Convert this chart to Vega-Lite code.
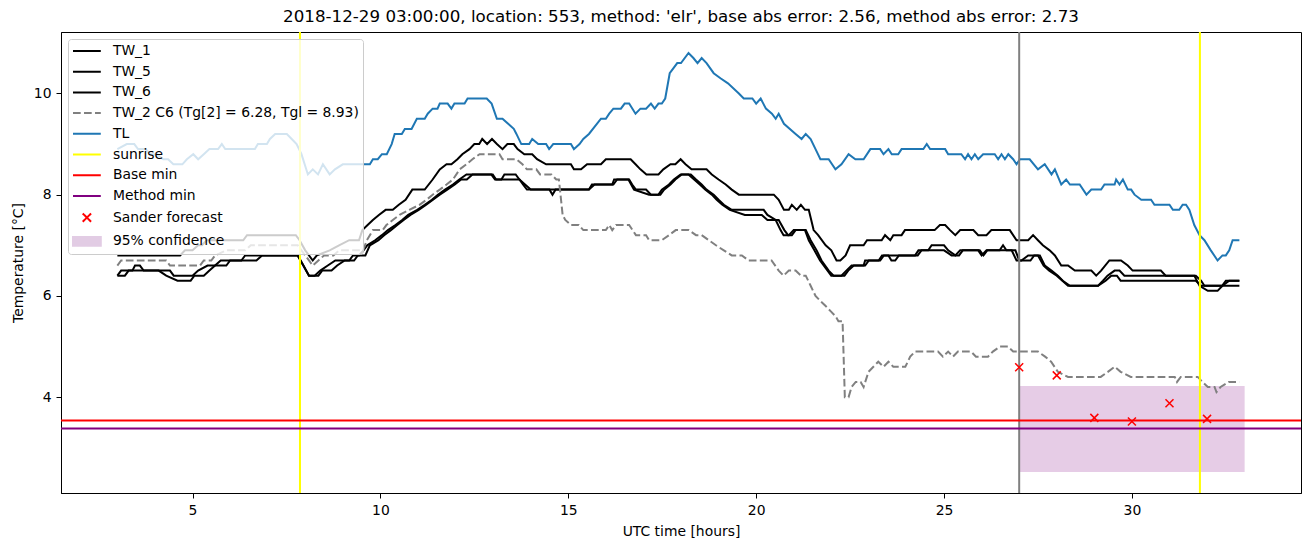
{
"$schema": "https://vega.github.io/schema/vega-lite/v6.json",
"autosize": {"type": "none"},
"padding": {"left": 61, "top": 32, "right": 9, "bottom": 54},
"width": 1240,
"height": 461,
"background": "white",
"title": {"text": "2018-12-29 03:00:00, location: 553, method: 'elr', base abs error: 2.56, method abs error: 2.73"},
"datasets": {
"black": [
{"s":"TW_1","t":3.0,"v":6.8},{"s":"TW_1","t":4.67,"v":6.8},{"s":"TW_1","t":4.8,"v":6.9},{"s":"TW_1","t":5.0,"v":6.9},{"s":"TW_1","t":5.15,"v":7.0},{"s":"TW_1","t":5.25,"v":7.0},{"s":"TW_1","t":5.38,"v":7.1},{"s":"TW_1","t":6.35,"v":7.1},{"s":"TW_1","t":6.45,"v":7.2},{"s":"TW_1","t":7.75,"v":7.2},{"s":"TW_1","t":7.85,"v":7.1},{"s":"TW_1","t":8.0,"v":6.9},{"s":"TW_1","t":8.2,"v":6.7},{"s":"TW_1","t":8.31,"v":6.8},{"s":"TW_1","t":8.65,"v":6.9},{"s":"TW_1","t":8.9,"v":7.0},{"s":"TW_1","t":9.17,"v":7.1},{"s":"TW_1","t":9.43,"v":7.1},{"s":"TW_1","t":9.52,"v":7.3},{"s":"TW_1","t":9.66,"v":7.4},{"s":"TW_1","t":9.8,"v":7.5},{"s":"TW_1","t":9.96,"v":7.6},{"s":"TW_1","t":10.14,"v":7.7},{"s":"TW_1","t":10.33,"v":7.7},{"s":"TW_1","t":10.49,"v":7.8},{"s":"TW_1","t":10.67,"v":7.9},{"s":"TW_1","t":10.85,"v":8.1},{"s":"TW_1","t":11.18,"v":8.1},{"s":"TW_1","t":11.39,"v":8.3},{"s":"TW_1","t":11.58,"v":8.5},{"s":"TW_1","t":11.76,"v":8.6},{"s":"TW_1","t":11.89,"v":8.6},{"s":"TW_1","t":12.05,"v":8.7},{"s":"TW_1","t":12.18,"v":8.8},{"s":"TW_1","t":12.37,"v":8.9},{"s":"TW_1","t":12.5,"v":9.0},{"s":"TW_1","t":12.63,"v":9.0},{"s":"TW_1","t":12.71,"v":9.1},{"s":"TW_1","t":12.84,"v":9.0},{"s":"TW_1","t":12.97,"v":9.1},{"s":"TW_1","t":13.1,"v":9.0},{"s":"TW_1","t":13.25,"v":8.9},{"s":"TW_1","t":13.38,"v":9.0},{"s":"TW_1","t":13.55,"v":9.0},{"s":"TW_1","t":13.65,"v":8.9},{"s":"TW_1","t":13.83,"v":8.8},{"s":"TW_1","t":14.04,"v":8.8},{"s":"TW_1","t":14.17,"v":8.7},{"s":"TW_1","t":14.41,"v":8.6},{"s":"TW_1","t":15.07,"v":8.6},{"s":"TW_1","t":15.15,"v":8.5},{"s":"TW_1","t":15.34,"v":8.5},{"s":"TW_1","t":15.5,"v":8.6},{"s":"TW_1","t":15.87,"v":8.6},{"s":"TW_1","t":16.0,"v":8.7},{"s":"TW_1","t":16.66,"v":8.7},{"s":"TW_1","t":16.79,"v":8.6},{"s":"TW_1","t":16.92,"v":8.5},{"s":"TW_1","t":17.08,"v":8.4},{"s":"TW_1","t":17.4,"v":8.4},{"s":"TW_1","t":17.53,"v":8.5},{"s":"TW_1","t":17.72,"v":8.6},{"s":"TW_1","t":17.85,"v":8.6},{"s":"TW_1","t":17.99,"v":8.7},{"s":"TW_1","t":18.12,"v":8.6},{"s":"TW_1","t":18.28,"v":8.5},{"s":"TW_1","t":18.68,"v":8.5},{"s":"TW_1","t":18.82,"v":8.4},{"s":"TW_1","t":19.0,"v":8.3},{"s":"TW_1","t":19.19,"v":8.2},{"s":"TW_1","t":19.35,"v":8.1},{"s":"TW_1","t":19.54,"v":8.0},{"s":"TW_1","t":20.47,"v":8.0},{"s":"TW_1","t":20.6,"v":7.9},{"s":"TW_1","t":20.74,"v":7.7},{"s":"TW_1","t":20.87,"v":7.7},{"s":"TW_1","t":20.95,"v":7.8},{"s":"TW_1","t":21.08,"v":7.7},{"s":"TW_1","t":21.19,"v":7.8},{"s":"TW_1","t":21.3,"v":7.7},{"s":"TW_1","t":21.4,"v":7.7},{"s":"TW_1","t":21.53,"v":7.3},{"s":"TW_1","t":21.65,"v":7.2},{"s":"TW_1","t":21.85,"v":7.0},{"s":"TW_1","t":22.0,"v":6.9},{"s":"TW_1","t":22.14,"v":6.7},{"s":"TW_1","t":22.24,"v":6.7},{"s":"TW_1","t":22.38,"v":6.8},{"s":"TW_1","t":22.5,"v":7.0},{"s":"TW_1","t":22.86,"v":7.0},{"s":"TW_1","t":22.95,"v":7.1},{"s":"TW_1","t":23.34,"v":7.1},{"s":"TW_1","t":23.43,"v":7.2},{"s":"TW_1","t":23.57,"v":7.1},{"s":"TW_1","t":23.65,"v":7.2},{"s":"TW_1","t":23.87,"v":7.2},{"s":"TW_1","t":23.96,"v":7.3},{"s":"TW_1","t":24.75,"v":7.3},{"s":"TW_1","t":24.89,"v":7.4},{"s":"TW_1","t":25.03,"v":7.4},{"s":"TW_1","t":25.16,"v":7.3},{"s":"TW_1","t":25.3,"v":7.2},{"s":"TW_1","t":25.43,"v":7.3},{"s":"TW_1","t":25.78,"v":7.3},{"s":"TW_1","t":25.91,"v":7.2},{"s":"TW_1","t":26.13,"v":7.2},{"s":"TW_1","t":26.26,"v":7.3},{"s":"TW_1","t":26.75,"v":7.3},{"s":"TW_1","t":26.93,"v":7.1},{"s":"TW_1","t":27.24,"v":7.1},{"s":"TW_1","t":27.37,"v":7.2},{"s":"TW_1","t":27.5,"v":7.1},{"s":"TW_1","t":27.63,"v":7.0},{"s":"TW_1","t":27.81,"v":6.9},{"s":"TW_1","t":27.95,"v":6.8},{"s":"TW_1","t":28.12,"v":6.6},{"s":"TW_1","t":28.3,"v":6.6},{"s":"TW_1","t":28.48,"v":6.5},{"s":"TW_1","t":28.92,"v":6.5},{"s":"TW_1","t":29.05,"v":6.4},{"s":"TW_1","t":29.18,"v":6.5},{"s":"TW_1","t":29.4,"v":6.7},{"s":"TW_1","t":29.71,"v":6.7},{"s":"TW_1","t":29.89,"v":6.6},{"s":"TW_1","t":30.02,"v":6.5},{"s":"TW_1","t":30.77,"v":6.5},{"s":"TW_1","t":30.9,"v":6.4},{"s":"TW_1","t":31.66,"v":6.4},{"s":"TW_1","t":31.8,"v":6.2},{"s":"TW_1","t":32.02,"v":6.1},{"s":"TW_1","t":32.28,"v":6.1},{"s":"TW_1","t":32.41,"v":6.2},{"s":"TW_1","t":32.59,"v":6.3},{"s":"TW_1","t":32.86,"v":6.3},
{"s":"TW_5","t":3.0,"v":6.4},{"s":"TW_5","t":3.1,"v":6.5},{"s":"TW_5","t":3.4,"v":6.5},{"s":"TW_5","t":3.47,"v":6.6},{"s":"TW_5","t":3.6,"v":6.6},{"s":"TW_5","t":3.7,"v":6.5},{"s":"TW_5","t":4.4,"v":6.5},{"s":"TW_5","t":4.5,"v":6.4},{"s":"TW_5","t":5.0,"v":6.4},{"s":"TW_5","t":5.15,"v":6.5},{"s":"TW_5","t":5.4,"v":6.6},{"s":"TW_5","t":5.6,"v":6.6},{"s":"TW_5","t":5.75,"v":6.7},{"s":"TW_5","t":6.7,"v":6.7},{"s":"TW_5","t":6.85,"v":6.8},{"s":"TW_5","t":7.8,"v":6.8},{"s":"TW_5","t":7.95,"v":6.6},{"s":"TW_5","t":8.1,"v":6.4},{"s":"TW_5","t":8.25,"v":6.4},{"s":"TW_5","t":8.4,"v":6.5},{"s":"TW_5","t":8.6,"v":6.6},{"s":"TW_5","t":8.8,"v":6.7},{"s":"TW_5","t":9.17,"v":6.7},{"s":"TW_5","t":9.27,"v":6.8},{"s":"TW_5","t":9.43,"v":6.8},{"s":"TW_5","t":9.55,"v":6.9},{"s":"TW_5","t":9.65,"v":7.0},{"s":"TW_5","t":9.86,"v":7.1},{"s":"TW_5","t":10.04,"v":7.2},{"s":"TW_5","t":10.2,"v":7.3},{"s":"TW_5","t":10.4,"v":7.4},{"s":"TW_5","t":10.58,"v":7.5},{"s":"TW_5","t":10.74,"v":7.6},{"s":"TW_5","t":10.98,"v":7.7},{"s":"TW_5","t":11.18,"v":7.8},{"s":"TW_5","t":11.37,"v":7.9},{"s":"TW_5","t":11.53,"v":8.0},{"s":"TW_5","t":11.72,"v":8.1},{"s":"TW_5","t":11.93,"v":8.2},{"s":"TW_5","t":12.1,"v":8.3},{"s":"TW_5","t":12.29,"v":8.4},{"s":"TW_5","t":12.99,"v":8.4},{"s":"TW_5","t":13.08,"v":8.3},{"s":"TW_5","t":13.22,"v":8.3},{"s":"TW_5","t":13.3,"v":8.4},{"s":"TW_5","t":13.6,"v":8.4},{"s":"TW_5","t":13.7,"v":8.3},{"s":"TW_5","t":13.85,"v":8.2},{"s":"TW_5","t":14.0,"v":8.1},{"s":"TW_5","t":15.55,"v":8.1},{"s":"TW_5","t":15.63,"v":8.2},{"s":"TW_5","t":16.17,"v":8.2},{"s":"TW_5","t":16.22,"v":8.3},{"s":"TW_5","t":16.62,"v":8.3},{"s":"TW_5","t":16.7,"v":8.2},{"s":"TW_5","t":16.8,"v":8.1},{"s":"TW_5","t":17.07,"v":8.1},{"s":"TW_5","t":17.2,"v":8.0},{"s":"TW_5","t":17.4,"v":8.0},{"s":"TW_5","t":17.49,"v":8.1},{"s":"TW_5","t":17.68,"v":8.2},{"s":"TW_5","t":17.81,"v":8.3},{"s":"TW_5","t":17.99,"v":8.4},{"s":"TW_5","t":18.26,"v":8.4},{"s":"TW_5","t":18.4,"v":8.3},{"s":"TW_5","t":18.55,"v":8.2},{"s":"TW_5","t":18.68,"v":8.1},{"s":"TW_5","t":18.87,"v":8.0},{"s":"TW_5","t":19.0,"v":7.9},{"s":"TW_5","t":19.14,"v":7.8},{"s":"TW_5","t":19.35,"v":7.7},{"s":"TW_5","t":20.2,"v":7.7},{"s":"TW_5","t":20.3,"v":7.6},{"s":"TW_5","t":20.52,"v":7.5},{"s":"TW_5","t":20.65,"v":7.3},{"s":"TW_5","t":20.73,"v":7.2},{"s":"TW_5","t":20.87,"v":7.2},{"s":"TW_5","t":21.0,"v":7.3},{"s":"TW_5","t":21.32,"v":7.3},{"s":"TW_5","t":21.45,"v":7.1},{"s":"TW_5","t":21.61,"v":6.9},{"s":"TW_5","t":21.74,"v":6.7},{"s":"TW_5","t":21.93,"v":6.5},{"s":"TW_5","t":22.06,"v":6.4},{"s":"TW_5","t":22.27,"v":6.4},{"s":"TW_5","t":22.4,"v":6.5},{"s":"TW_5","t":22.54,"v":6.6},{"s":"TW_5","t":22.86,"v":6.6},{"s":"TW_5","t":22.9,"v":6.7},{"s":"TW_5","t":23.26,"v":6.7},{"s":"TW_5","t":23.35,"v":6.8},{"s":"TW_5","t":24.23,"v":6.8},{"s":"TW_5","t":24.32,"v":6.9},{"s":"TW_5","t":24.58,"v":6.9},{"s":"TW_5","t":24.67,"v":7.0},{"s":"TW_5","t":25.0,"v":7.0},{"s":"TW_5","t":25.11,"v":6.9},{"s":"TW_5","t":25.3,"v":6.8},{"s":"TW_5","t":25.43,"v":6.9},{"s":"TW_5","t":25.91,"v":6.9},{"s":"TW_5","t":26.0,"v":6.8},{"s":"TW_5","t":26.13,"v":6.9},{"s":"TW_5","t":26.48,"v":6.9},{"s":"TW_5","t":26.57,"v":7.0},{"s":"TW_5","t":26.66,"v":6.9},{"s":"TW_5","t":26.8,"v":6.9},{"s":"TW_5","t":26.93,"v":6.7},{"s":"TW_5","t":27.06,"v":6.7},{"s":"TW_5","t":27.24,"v":6.8},{"s":"TW_5","t":27.55,"v":6.8},{"s":"TW_5","t":27.68,"v":6.6},{"s":"TW_5","t":27.86,"v":6.5},{"s":"TW_5","t":28.03,"v":6.4},{"s":"TW_5","t":28.16,"v":6.3},{"s":"TW_5","t":28.35,"v":6.2},{"s":"TW_5","t":29.1,"v":6.2},{"s":"TW_5","t":29.23,"v":6.3},{"s":"TW_5","t":29.35,"v":6.4},{"s":"TW_5","t":29.54,"v":6.5},{"s":"TW_5","t":29.67,"v":6.5},{"s":"TW_5","t":29.8,"v":6.4},{"s":"TW_5","t":31.7,"v":6.4},{"s":"TW_5","t":31.84,"v":6.3},{"s":"TW_5","t":31.93,"v":6.2},{"s":"TW_5","t":32.4,"v":6.2},{"s":"TW_5","t":32.5,"v":6.3},{"s":"TW_5","t":32.86,"v":6.3},
{"s":"TW_6","t":3.0,"v":6.4},{"s":"TW_6","t":3.2,"v":6.4},{"s":"TW_6","t":3.3,"v":6.5},{"s":"TW_6","t":4.1,"v":6.5},{"s":"TW_6","t":4.3,"v":6.4},{"s":"TW_6","t":4.6,"v":6.3},{"s":"TW_6","t":4.95,"v":6.3},{"s":"TW_6","t":5.05,"v":6.4},{"s":"TW_6","t":5.3,"v":6.4},{"s":"TW_6","t":5.45,"v":6.5},{"s":"TW_6","t":5.6,"v":6.6},{"s":"TW_6","t":5.9,"v":6.6},{"s":"TW_6","t":6.0,"v":6.7},{"s":"TW_6","t":6.3,"v":6.7},{"s":"TW_6","t":6.4,"v":6.8},{"s":"TW_6","t":7.8,"v":6.8},{"s":"TW_6","t":7.95,"v":6.6},{"s":"TW_6","t":8.1,"v":6.4},{"s":"TW_6","t":8.35,"v":6.4},{"s":"TW_6","t":8.45,"v":6.5},{"s":"TW_6","t":8.7,"v":6.5},{"s":"TW_6","t":8.85,"v":6.6},{"s":"TW_6","t":9.05,"v":6.7},{"s":"TW_6","t":9.3,"v":6.7},{"s":"TW_6","t":9.4,"v":6.8},{"s":"TW_6","t":9.6,"v":6.8},{"s":"TW_6","t":9.72,"v":7.0},{"s":"TW_6","t":9.95,"v":7.1},{"s":"TW_6","t":10.1,"v":7.2},{"s":"TW_6","t":10.28,"v":7.3},{"s":"TW_6","t":10.45,"v":7.4},{"s":"TW_6","t":10.62,"v":7.5},{"s":"TW_6","t":10.8,"v":7.6},{"s":"TW_6","t":11.02,"v":7.7},{"s":"TW_6","t":11.22,"v":7.8},{"s":"TW_6","t":11.4,"v":7.9},{"s":"TW_6","t":11.58,"v":8.0},{"s":"TW_6","t":11.78,"v":8.1},{"s":"TW_6","t":11.98,"v":8.2},{"s":"TW_6","t":12.15,"v":8.3},{"s":"TW_6","t":12.3,"v":8.3},{"s":"TW_6","t":12.45,"v":8.4},{"s":"TW_6","t":12.95,"v":8.4},{"s":"TW_6","t":13.05,"v":8.3},{"s":"TW_6","t":13.7,"v":8.3},{"s":"TW_6","t":13.8,"v":8.2},{"s":"TW_6","t":13.9,"v":8.1},{"s":"TW_6","t":14.5,"v":8.1},{"s":"TW_6","t":14.58,"v":8.0},{"s":"TW_6","t":14.66,"v":8.1},{"s":"TW_6","t":15.55,"v":8.1},{"s":"TW_6","t":15.7,"v":8.2},{"s":"TW_6","t":16.2,"v":8.2},{"s":"TW_6","t":16.3,"v":8.3},{"s":"TW_6","t":16.6,"v":8.3},{"s":"TW_6","t":16.75,"v":8.1},{"s":"TW_6","t":17.15,"v":8.0},{"s":"TW_6","t":17.45,"v":8.0},{"s":"TW_6","t":17.55,"v":8.1},{"s":"TW_6","t":17.72,"v":8.2},{"s":"TW_6","t":17.85,"v":8.3},{"s":"TW_6","t":18.02,"v":8.4},{"s":"TW_6","t":18.2,"v":8.4},{"s":"TW_6","t":18.35,"v":8.3},{"s":"TW_6","t":18.5,"v":8.2},{"s":"TW_6","t":18.65,"v":8.1},{"s":"TW_6","t":18.82,"v":8.0},{"s":"TW_6","t":18.95,"v":7.9},{"s":"TW_6","t":19.1,"v":7.8},{"s":"TW_6","t":19.3,"v":7.7},{"s":"TW_6","t":19.7,"v":7.6},{"s":"TW_6","t":20.15,"v":7.6},{"s":"TW_6","t":20.3,"v":7.5},{"s":"TW_6","t":20.6,"v":7.5},{"s":"TW_6","t":20.75,"v":7.3},{"s":"TW_6","t":20.85,"v":7.2},{"s":"TW_6","t":20.95,"v":7.2},{"s":"TW_6","t":21.05,"v":7.3},{"s":"TW_6","t":21.3,"v":7.3},{"s":"TW_6","t":21.4,"v":7.1},{"s":"TW_6","t":21.55,"v":6.9},{"s":"TW_6","t":21.7,"v":6.7},{"s":"TW_6","t":21.9,"v":6.5},{"s":"TW_6","t":22.0,"v":6.4},{"s":"TW_6","t":22.35,"v":6.4},{"s":"TW_6","t":22.45,"v":6.5},{"s":"TW_6","t":22.6,"v":6.6},{"s":"TW_6","t":22.9,"v":6.6},{"s":"TW_6","t":23.0,"v":6.7},{"s":"TW_6","t":23.3,"v":6.7},{"s":"TW_6","t":23.4,"v":6.8},{"s":"TW_6","t":23.52,"v":6.8},{"s":"TW_6","t":23.6,"v":6.7},{"s":"TW_6","t":23.7,"v":6.7},{"s":"TW_6","t":23.8,"v":6.8},{"s":"TW_6","t":24.3,"v":6.8},{"s":"TW_6","t":24.4,"v":6.9},{"s":"TW_6","t":25.0,"v":6.9},{"s":"TW_6","t":25.2,"v":6.8},{"s":"TW_6","t":25.4,"v":6.8},{"s":"TW_6","t":25.5,"v":6.9},{"s":"TW_6","t":25.95,"v":6.9},{"s":"TW_6","t":26.05,"v":6.8},{"s":"TW_6","t":26.15,"v":6.9},{"s":"TW_6","t":26.9,"v":6.9},{"s":"TW_6","t":27.0,"v":6.7},{"s":"TW_6","t":27.3,"v":6.7},{"s":"TW_6","t":27.4,"v":6.8},{"s":"TW_6","t":27.5,"v":6.8},{"s":"TW_6","t":27.65,"v":6.6},{"s":"TW_6","t":27.8,"v":6.5},{"s":"TW_6","t":28.0,"v":6.4},{"s":"TW_6","t":28.15,"v":6.3},{"s":"TW_6","t":28.3,"v":6.2},{"s":"TW_6","t":29.1,"v":6.2},{"s":"TW_6","t":29.3,"v":6.3},{"s":"TW_6","t":29.45,"v":6.4},{"s":"TW_6","t":29.6,"v":6.4},{"s":"TW_6","t":29.7,"v":6.3},{"s":"TW_6","t":31.7,"v":6.3},{"s":"TW_6","t":31.84,"v":6.2},{"s":"TW_6","t":32.86,"v":6.2}
],
"dashed": [
{"s":"TW_2 C6 (Tg[2] = 6.28, Tgl = 8.93)","t":3.0,"v":6.6},{"s":"TW_2 C6 (Tg[2] = 6.28, Tgl = 8.93)","t":3.1,"v":6.7},{"s":"TW_2 C6 (Tg[2] = 6.28, Tgl = 8.93)","t":4.3,"v":6.7},{"s":"TW_2 C6 (Tg[2] = 6.28, Tgl = 8.93)","t":4.4,"v":6.6},{"s":"TW_2 C6 (Tg[2] = 6.28, Tgl = 8.93)","t":5.2,"v":6.6},{"s":"TW_2 C6 (Tg[2] = 6.28, Tgl = 8.93)","t":5.3,"v":6.7},{"s":"TW_2 C6 (Tg[2] = 6.28, Tgl = 8.93)","t":5.5,"v":6.7},{"s":"TW_2 C6 (Tg[2] = 6.28, Tgl = 8.93)","t":5.6,"v":6.8},{"s":"TW_2 C6 (Tg[2] = 6.28, Tgl = 8.93)","t":5.9,"v":6.9},{"s":"TW_2 C6 (Tg[2] = 6.28, Tgl = 8.93)","t":6.4,"v":6.9},{"s":"TW_2 C6 (Tg[2] = 6.28, Tgl = 8.93)","t":6.55,"v":7.0},{"s":"TW_2 C6 (Tg[2] = 6.28, Tgl = 8.93)","t":7.8,"v":7.0},{"s":"TW_2 C6 (Tg[2] = 6.28, Tgl = 8.93)","t":8.0,"v":6.8},{"s":"TW_2 C6 (Tg[2] = 6.28, Tgl = 8.93)","t":8.2,"v":6.6},{"s":"TW_2 C6 (Tg[2] = 6.28, Tgl = 8.93)","t":8.35,"v":6.7},{"s":"TW_2 C6 (Tg[2] = 6.28, Tgl = 8.93)","t":8.5,"v":6.8},{"s":"TW_2 C6 (Tg[2] = 6.28, Tgl = 8.93)","t":8.75,"v":6.8},{"s":"TW_2 C6 (Tg[2] = 6.28, Tgl = 8.93)","t":8.9,"v":6.9},{"s":"TW_2 C6 (Tg[2] = 6.28, Tgl = 8.93)","t":9.54,"v":6.9},{"s":"TW_2 C6 (Tg[2] = 6.28, Tgl = 8.93)","t":9.64,"v":7.1},{"s":"TW_2 C6 (Tg[2] = 6.28, Tgl = 8.93)","t":9.8,"v":7.3},{"s":"TW_2 C6 (Tg[2] = 6.28, Tgl = 8.93)","t":10.06,"v":7.3},{"s":"TW_2 C6 (Tg[2] = 6.28, Tgl = 8.93)","t":10.16,"v":7.4},{"s":"TW_2 C6 (Tg[2] = 6.28, Tgl = 8.93)","t":10.33,"v":7.5},{"s":"TW_2 C6 (Tg[2] = 6.28, Tgl = 8.93)","t":10.51,"v":7.6},{"s":"TW_2 C6 (Tg[2] = 6.28, Tgl = 8.93)","t":10.77,"v":7.7},{"s":"TW_2 C6 (Tg[2] = 6.28, Tgl = 8.93)","t":11.04,"v":7.8},{"s":"TW_2 C6 (Tg[2] = 6.28, Tgl = 8.93)","t":11.23,"v":7.9},{"s":"TW_2 C6 (Tg[2] = 6.28, Tgl = 8.93)","t":11.39,"v":8.0},{"s":"TW_2 C6 (Tg[2] = 6.28, Tgl = 8.93)","t":11.58,"v":8.1},{"s":"TW_2 C6 (Tg[2] = 6.28, Tgl = 8.93)","t":11.76,"v":8.2},{"s":"TW_2 C6 (Tg[2] = 6.28, Tgl = 8.93)","t":11.93,"v":8.3},{"s":"TW_2 C6 (Tg[2] = 6.28, Tgl = 8.93)","t":12.11,"v":8.5},{"s":"TW_2 C6 (Tg[2] = 6.28, Tgl = 8.93)","t":12.29,"v":8.6},{"s":"TW_2 C6 (Tg[2] = 6.28, Tgl = 8.93)","t":12.45,"v":8.7},{"s":"TW_2 C6 (Tg[2] = 6.28, Tgl = 8.93)","t":12.64,"v":8.8},{"s":"TW_2 C6 (Tg[2] = 6.28, Tgl = 8.93)","t":13.17,"v":8.8},{"s":"TW_2 C6 (Tg[2] = 6.28, Tgl = 8.93)","t":13.25,"v":8.7},{"s":"TW_2 C6 (Tg[2] = 6.28, Tgl = 8.93)","t":13.62,"v":8.7},{"s":"TW_2 C6 (Tg[2] = 6.28, Tgl = 8.93)","t":13.78,"v":8.6},{"s":"TW_2 C6 (Tg[2] = 6.28, Tgl = 8.93)","t":13.9,"v":8.5},{"s":"TW_2 C6 (Tg[2] = 6.28, Tgl = 8.93)","t":14.15,"v":8.5},{"s":"TW_2 C6 (Tg[2] = 6.28, Tgl = 8.93)","t":14.25,"v":8.4},{"s":"TW_2 C6 (Tg[2] = 6.28, Tgl = 8.93)","t":14.55,"v":8.4},{"s":"TW_2 C6 (Tg[2] = 6.28, Tgl = 8.93)","t":14.68,"v":8.3},{"s":"TW_2 C6 (Tg[2] = 6.28, Tgl = 8.93)","t":14.75,"v":8.3},{"s":"TW_2 C6 (Tg[2] = 6.28, Tgl = 8.93)","t":14.85,"v":7.6},{"s":"TW_2 C6 (Tg[2] = 6.28, Tgl = 8.93)","t":14.92,"v":7.5},{"s":"TW_2 C6 (Tg[2] = 6.28, Tgl = 8.93)","t":15.07,"v":7.4},{"s":"TW_2 C6 (Tg[2] = 6.28, Tgl = 8.93)","t":15.28,"v":7.4},{"s":"TW_2 C6 (Tg[2] = 6.28, Tgl = 8.93)","t":15.4,"v":7.3},{"s":"TW_2 C6 (Tg[2] = 6.28, Tgl = 8.93)","t":16.0,"v":7.3},{"s":"TW_2 C6 (Tg[2] = 6.28, Tgl = 8.93)","t":16.09,"v":7.4},{"s":"TW_2 C6 (Tg[2] = 6.28, Tgl = 8.93)","t":16.17,"v":7.3},{"s":"TW_2 C6 (Tg[2] = 6.28, Tgl = 8.93)","t":16.27,"v":7.4},{"s":"TW_2 C6 (Tg[2] = 6.28, Tgl = 8.93)","t":16.62,"v":7.4},{"s":"TW_2 C6 (Tg[2] = 6.28, Tgl = 8.93)","t":16.8,"v":7.2},{"s":"TW_2 C6 (Tg[2] = 6.28, Tgl = 8.93)","t":17.07,"v":7.2},{"s":"TW_2 C6 (Tg[2] = 6.28, Tgl = 8.93)","t":17.15,"v":7.1},{"s":"TW_2 C6 (Tg[2] = 6.28, Tgl = 8.93)","t":17.49,"v":7.1},{"s":"TW_2 C6 (Tg[2] = 6.28, Tgl = 8.93)","t":17.68,"v":7.2},{"s":"TW_2 C6 (Tg[2] = 6.28, Tgl = 8.93)","t":17.86,"v":7.3},{"s":"TW_2 C6 (Tg[2] = 6.28, Tgl = 8.93)","t":18.21,"v":7.3},{"s":"TW_2 C6 (Tg[2] = 6.28, Tgl = 8.93)","t":18.4,"v":7.2},{"s":"TW_2 C6 (Tg[2] = 6.28, Tgl = 8.93)","t":18.55,"v":7.2},{"s":"TW_2 C6 (Tg[2] = 6.28, Tgl = 8.93)","t":18.74,"v":7.1},{"s":"TW_2 C6 (Tg[2] = 6.28, Tgl = 8.93)","t":18.93,"v":7.0},{"s":"TW_2 C6 (Tg[2] = 6.28, Tgl = 8.93)","t":19.14,"v":6.9},{"s":"TW_2 C6 (Tg[2] = 6.28, Tgl = 8.93)","t":19.35,"v":6.8},{"s":"TW_2 C6 (Tg[2] = 6.28, Tgl = 8.93)","t":19.62,"v":6.8},{"s":"TW_2 C6 (Tg[2] = 6.28, Tgl = 8.93)","t":19.8,"v":6.7},{"s":"TW_2 C6 (Tg[2] = 6.28, Tgl = 8.93)","t":20.41,"v":6.7},{"s":"TW_2 C6 (Tg[2] = 6.28, Tgl = 8.93)","t":20.6,"v":6.5},{"s":"TW_2 C6 (Tg[2] = 6.28, Tgl = 8.93)","t":20.73,"v":6.4},{"s":"TW_2 C6 (Tg[2] = 6.28, Tgl = 8.93)","t":20.87,"v":6.5},{"s":"TW_2 C6 (Tg[2] = 6.28, Tgl = 8.93)","t":21.05,"v":6.5},{"s":"TW_2 C6 (Tg[2] = 6.28, Tgl = 8.93)","t":21.19,"v":6.4},{"s":"TW_2 C6 (Tg[2] = 6.28, Tgl = 8.93)","t":21.32,"v":6.4},{"s":"TW_2 C6 (Tg[2] = 6.28, Tgl = 8.93)","t":21.45,"v":6.2},{"s":"TW_2 C6 (Tg[2] = 6.28, Tgl = 8.93)","t":21.58,"v":6.0},{"s":"TW_2 C6 (Tg[2] = 6.28, Tgl = 8.93)","t":21.71,"v":5.9},{"s":"TW_2 C6 (Tg[2] = 6.28, Tgl = 8.93)","t":21.85,"v":5.8},{"s":"TW_2 C6 (Tg[2] = 6.28, Tgl = 8.93)","t":21.98,"v":5.7},{"s":"TW_2 C6 (Tg[2] = 6.28, Tgl = 8.93)","t":22.11,"v":5.6},{"s":"TW_2 C6 (Tg[2] = 6.28, Tgl = 8.93)","t":22.19,"v":5.5},{"s":"TW_2 C6 (Tg[2] = 6.28, Tgl = 8.93)","t":22.3,"v":5.5},{"s":"TW_2 C6 (Tg[2] = 6.28, Tgl = 8.93)","t":22.36,"v":4.0},{"s":"TW_2 C6 (Tg[2] = 6.28, Tgl = 8.93)","t":22.46,"v":4.0},{"s":"TW_2 C6 (Tg[2] = 6.28, Tgl = 8.93)","t":22.54,"v":4.2},{"s":"TW_2 C6 (Tg[2] = 6.28, Tgl = 8.93)","t":22.65,"v":4.3},{"s":"TW_2 C6 (Tg[2] = 6.28, Tgl = 8.93)","t":22.78,"v":4.3},{"s":"TW_2 C6 (Tg[2] = 6.28, Tgl = 8.93)","t":22.86,"v":4.2},{"s":"TW_2 C6 (Tg[2] = 6.28, Tgl = 8.93)","t":22.99,"v":4.5},{"s":"TW_2 C6 (Tg[2] = 6.28, Tgl = 8.93)","t":23.12,"v":4.6},{"s":"TW_2 C6 (Tg[2] = 6.28, Tgl = 8.93)","t":23.25,"v":4.7},{"s":"TW_2 C6 (Tg[2] = 6.28, Tgl = 8.93)","t":23.39,"v":4.6},{"s":"TW_2 C6 (Tg[2] = 6.28, Tgl = 8.93)","t":23.52,"v":4.7},{"s":"TW_2 C6 (Tg[2] = 6.28, Tgl = 8.93)","t":23.65,"v":4.6},{"s":"TW_2 C6 (Tg[2] = 6.28, Tgl = 8.93)","t":23.97,"v":4.6},{"s":"TW_2 C6 (Tg[2] = 6.28, Tgl = 8.93)","t":24.1,"v":4.8},{"s":"TW_2 C6 (Tg[2] = 6.28, Tgl = 8.93)","t":24.23,"v":4.9},{"s":"TW_2 C6 (Tg[2] = 6.28, Tgl = 8.93)","t":24.84,"v":4.9},{"s":"TW_2 C6 (Tg[2] = 6.28, Tgl = 8.93)","t":24.97,"v":4.8},{"s":"TW_2 C6 (Tg[2] = 6.28, Tgl = 8.93)","t":25.11,"v":4.9},{"s":"TW_2 C6 (Tg[2] = 6.28, Tgl = 8.93)","t":25.24,"v":4.8},{"s":"TW_2 C6 (Tg[2] = 6.28, Tgl = 8.93)","t":25.37,"v":4.9},{"s":"TW_2 C6 (Tg[2] = 6.28, Tgl = 8.93)","t":25.72,"v":4.9},{"s":"TW_2 C6 (Tg[2] = 6.28, Tgl = 8.93)","t":25.85,"v":4.8},{"s":"TW_2 C6 (Tg[2] = 6.28, Tgl = 8.93)","t":26.17,"v":4.8},{"s":"TW_2 C6 (Tg[2] = 6.28, Tgl = 8.93)","t":26.3,"v":4.9},{"s":"TW_2 C6 (Tg[2] = 6.28, Tgl = 8.93)","t":26.49,"v":5.0},{"s":"TW_2 C6 (Tg[2] = 6.28, Tgl = 8.93)","t":26.7,"v":5.0},{"s":"TW_2 C6 (Tg[2] = 6.28, Tgl = 8.93)","t":26.84,"v":4.9},{"s":"TW_2 C6 (Tg[2] = 6.28, Tgl = 8.93)","t":27.5,"v":4.9},{"s":"TW_2 C6 (Tg[2] = 6.28, Tgl = 8.93)","t":27.69,"v":4.8},{"s":"TW_2 C6 (Tg[2] = 6.28, Tgl = 8.93)","t":27.85,"v":4.7},{"s":"TW_2 C6 (Tg[2] = 6.28, Tgl = 8.93)","t":28.03,"v":4.5},{"s":"TW_2 C6 (Tg[2] = 6.28, Tgl = 8.93)","t":28.3,"v":4.4},{"s":"TW_2 C6 (Tg[2] = 6.28, Tgl = 8.93)","t":29.17,"v":4.4},{"s":"TW_2 C6 (Tg[2] = 6.28, Tgl = 8.93)","t":29.36,"v":4.5},{"s":"TW_2 C6 (Tg[2] = 6.28, Tgl = 8.93)","t":29.54,"v":4.6},{"s":"TW_2 C6 (Tg[2] = 6.28, Tgl = 8.93)","t":29.7,"v":4.5},{"s":"TW_2 C6 (Tg[2] = 6.28, Tgl = 8.93)","t":29.97,"v":4.4},{"s":"TW_2 C6 (Tg[2] = 6.28, Tgl = 8.93)","t":31.14,"v":4.4},{"s":"TW_2 C6 (Tg[2] = 6.28, Tgl = 8.93)","t":31.2,"v":4.3},{"s":"TW_2 C6 (Tg[2] = 6.28, Tgl = 8.93)","t":31.3,"v":4.4},{"s":"TW_2 C6 (Tg[2] = 6.28, Tgl = 8.93)","t":31.75,"v":4.4},{"s":"TW_2 C6 (Tg[2] = 6.28, Tgl = 8.93)","t":31.88,"v":4.3},{"s":"TW_2 C6 (Tg[2] = 6.28, Tgl = 8.93)","t":32.02,"v":4.2},{"s":"TW_2 C6 (Tg[2] = 6.28, Tgl = 8.93)","t":32.2,"v":4.2},{"s":"TW_2 C6 (Tg[2] = 6.28, Tgl = 8.93)","t":32.25,"v":4.1},{"s":"TW_2 C6 (Tg[2] = 6.28, Tgl = 8.93)","t":32.36,"v":4.2},{"s":"TW_2 C6 (Tg[2] = 6.28, Tgl = 8.93)","t":32.58,"v":4.3},{"s":"TW_2 C6 (Tg[2] = 6.28, Tgl = 8.93)","t":32.86,"v":4.3}
],
"tl": [
{"s":"TL","t":3.0,"v":8.9},{"s":"TL","t":3.25,"v":9.0},{"s":"TL","t":3.45,"v":9.0},{"s":"TL","t":3.55,"v":8.9},{"s":"TL","t":3.75,"v":8.9},{"s":"TL","t":3.88,"v":8.8},{"s":"TL","t":4.05,"v":8.8},{"s":"TL","t":4.22,"v":8.7},{"s":"TL","t":4.35,"v":8.7},{"s":"TL","t":4.49,"v":8.6},{"s":"TL","t":4.73,"v":8.6},{"s":"TL","t":4.85,"v":8.7},{"s":"TL","t":5.02,"v":8.8},{"s":"TL","t":5.15,"v":8.7},{"s":"TL","t":5.3,"v":8.8},{"s":"TL","t":5.45,"v":8.9},{"s":"TL","t":5.68,"v":8.9},{"s":"TL","t":5.78,"v":9.0},{"s":"TL","t":5.87,"v":8.9},{"s":"TL","t":6.66,"v":8.9},{"s":"TL","t":6.74,"v":9.0},{"s":"TL","t":6.98,"v":9.0},{"s":"TL","t":7.06,"v":9.1},{"s":"TL","t":7.2,"v":9.2},{"s":"TL","t":7.51,"v":9.2},{"s":"TL","t":7.64,"v":9.1},{"s":"TL","t":7.77,"v":9.0},{"s":"TL","t":7.9,"v":8.8},{"s":"TL","t":8.07,"v":8.4},{"s":"TL","t":8.2,"v":8.5},{"s":"TL","t":8.34,"v":8.4},{"s":"TL","t":8.47,"v":8.6},{"s":"TL","t":8.65,"v":8.4},{"s":"TL","t":8.79,"v":8.5},{"s":"TL","t":9.0,"v":8.6},{"s":"TL","t":9.72,"v":8.6},{"s":"TL","t":9.8,"v":8.7},{"s":"TL","t":9.93,"v":8.7},{"s":"TL","t":10.04,"v":8.8},{"s":"TL","t":10.17,"v":8.8},{"s":"TL","t":10.3,"v":9.0},{"s":"TL","t":10.38,"v":9.2},{"s":"TL","t":10.57,"v":9.2},{"s":"TL","t":10.65,"v":9.3},{"s":"TL","t":10.83,"v":9.3},{"s":"TL","t":10.97,"v":9.5},{"s":"TL","t":11.18,"v":9.5},{"s":"TL","t":11.26,"v":9.6},{"s":"TL","t":11.39,"v":9.7},{"s":"TL","t":11.52,"v":9.7},{"s":"TL","t":11.58,"v":9.8},{"s":"TL","t":11.79,"v":9.8},{"s":"TL","t":11.89,"v":9.7},{"s":"TL","t":11.97,"v":9.8},{"s":"TL","t":12.24,"v":9.8},{"s":"TL","t":12.32,"v":9.9},{"s":"TL","t":12.83,"v":9.9},{"s":"TL","t":12.96,"v":9.8},{"s":"TL","t":13.1,"v":9.5},{"s":"TL","t":13.25,"v":9.5},{"s":"TL","t":13.4,"v":9.4},{"s":"TL","t":13.55,"v":9.3},{"s":"TL","t":13.62,"v":9.2},{"s":"TL","t":13.75,"v":9.0},{"s":"TL","t":13.96,"v":9.0},{"s":"TL","t":14.04,"v":9.1},{"s":"TL","t":14.2,"v":9.0},{"s":"TL","t":14.41,"v":9.0},{"s":"TL","t":14.49,"v":8.9},{"s":"TL","t":14.6,"v":9.0},{"s":"TL","t":15.07,"v":9.0},{"s":"TL","t":15.15,"v":8.9},{"s":"TL","t":15.3,"v":9.0},{"s":"TL","t":15.4,"v":9.1},{"s":"TL","t":15.55,"v":9.2},{"s":"TL","t":15.87,"v":9.5},{"s":"TL","t":16.0,"v":9.5},{"s":"TL","t":16.09,"v":9.6},{"s":"TL","t":16.2,"v":9.7},{"s":"TL","t":16.4,"v":9.7},{"s":"TL","t":16.5,"v":9.8},{"s":"TL","t":16.62,"v":9.8},{"s":"TL","t":16.79,"v":9.6},{"s":"TL","t":16.92,"v":9.7},{"s":"TL","t":17.07,"v":9.7},{"s":"TL","t":17.2,"v":9.8},{"s":"TL","t":17.3,"v":9.7},{"s":"TL","t":17.4,"v":9.8},{"s":"TL","t":17.49,"v":9.8},{"s":"TL","t":17.58,"v":9.9},{"s":"TL","t":17.7,"v":10.4},{"s":"TL","t":17.9,"v":10.6},{"s":"TL","t":18.0,"v":10.6},{"s":"TL","t":18.2,"v":10.8},{"s":"TL","t":18.33,"v":10.7},{"s":"TL","t":18.44,"v":10.6},{"s":"TL","t":18.55,"v":10.7},{"s":"TL","t":18.68,"v":10.6},{"s":"TL","t":18.87,"v":10.4},{"s":"TL","t":19.05,"v":10.3},{"s":"TL","t":19.25,"v":10.2},{"s":"TL","t":19.54,"v":10.0},{"s":"TL","t":19.67,"v":9.9},{"s":"TL","t":19.9,"v":9.9},{"s":"TL","t":20.0,"v":9.8},{"s":"TL","t":20.12,"v":9.9},{"s":"TL","t":20.26,"v":9.7},{"s":"TL","t":20.42,"v":9.6},{"s":"TL","t":20.52,"v":9.5},{"s":"TL","t":20.6,"v":9.6},{"s":"TL","t":20.74,"v":9.4},{"s":"TL","t":21.05,"v":9.2},{"s":"TL","t":21.21,"v":9.1},{"s":"TL","t":21.32,"v":9.2},{"s":"TL","t":21.45,"v":9.1},{"s":"TL","t":21.58,"v":8.9},{"s":"TL","t":21.71,"v":8.7},{"s":"TL","t":21.93,"v":8.7},{"s":"TL","t":22.11,"v":8.5},{"s":"TL","t":22.27,"v":8.6},{"s":"TL","t":22.46,"v":8.8},{"s":"TL","t":22.64,"v":8.7},{"s":"TL","t":22.86,"v":8.7},{"s":"TL","t":23.04,"v":8.9},{"s":"TL","t":23.3,"v":8.9},{"s":"TL","t":23.39,"v":8.8},{"s":"TL","t":23.52,"v":8.9},{"s":"TL","t":23.61,"v":8.8},{"s":"TL","t":23.78,"v":8.8},{"s":"TL","t":23.87,"v":8.9},{"s":"TL","t":24.45,"v":8.9},{"s":"TL","t":24.54,"v":9.0},{"s":"TL","t":24.63,"v":8.9},{"s":"TL","t":25.03,"v":8.9},{"s":"TL","t":25.11,"v":8.8},{"s":"TL","t":25.46,"v":8.8},{"s":"TL","t":25.56,"v":8.7},{"s":"TL","t":25.64,"v":8.8},{"s":"TL","t":25.73,"v":8.7},{"s":"TL","t":25.82,"v":8.8},{"s":"TL","t":25.91,"v":8.7},{"s":"TL","t":26.04,"v":8.8},{"s":"TL","t":26.35,"v":8.8},{"s":"TL","t":26.44,"v":8.7},{"s":"TL","t":26.53,"v":8.8},{"s":"TL","t":26.62,"v":8.7},{"s":"TL","t":26.71,"v":8.8},{"s":"TL","t":26.84,"v":8.7},{"s":"TL","t":26.93,"v":8.6},{"s":"TL","t":27.02,"v":8.7},{"s":"TL","t":27.28,"v":8.7},{"s":"TL","t":27.5,"v":8.5},{"s":"TL","t":27.68,"v":8.6},{"s":"TL","t":27.86,"v":8.4},{"s":"TL","t":27.95,"v":8.5},{"s":"TL","t":28.12,"v":8.2},{"s":"TL","t":28.25,"v":8.3},{"s":"TL","t":28.35,"v":8.2},{"s":"TL","t":28.61,"v":8.2},{"s":"TL","t":28.79,"v":8.0},{"s":"TL","t":28.92,"v":8.1},{"s":"TL","t":29.18,"v":8.1},{"s":"TL","t":29.27,"v":8.2},{"s":"TL","t":29.54,"v":8.2},{"s":"TL","t":29.58,"v":8.3},{"s":"TL","t":29.67,"v":8.2},{"s":"TL","t":29.76,"v":8.3},{"s":"TL","t":29.89,"v":8.1},{"s":"TL","t":29.98,"v":8.1},{"s":"TL","t":30.07,"v":8.0},{"s":"TL","t":30.25,"v":7.9},{"s":"TL","t":30.51,"v":7.9},{"s":"TL","t":30.6,"v":7.8},{"s":"TL","t":31.0,"v":7.8},{"s":"TL","t":31.09,"v":7.7},{"s":"TL","t":31.26,"v":7.7},{"s":"TL","t":31.35,"v":7.8},{"s":"TL","t":31.44,"v":7.8},{"s":"TL","t":31.53,"v":7.7},{"s":"TL","t":31.66,"v":7.4},{"s":"TL","t":31.8,"v":7.2},{"s":"TL","t":31.93,"v":7.1},{"s":"TL","t":32.1,"v":6.9},{"s":"TL","t":32.28,"v":6.7},{"s":"TL","t":32.41,"v":6.8},{"s":"TL","t":32.5,"v":6.8},{"s":"TL","t":32.59,"v":6.9},{"s":"TL","t":32.68,"v":7.1},{"s":"TL","t":32.86,"v":7.1}
]
},
"encoding": {
"color": {"field": "s", "type": "nominal",
 "scale": {"domain": ["TW_1","TW_5","TW_6","TW_2 C6 (Tg[2] = 6.28, Tgl = 8.93)","TL","sunrise","Base min","Method min","Sander forecast","95% confidence"],
  "range": ["black","black","black","gray","#1f77b4","yellow","red","purple","red","#e2cce4"]},
 "legend": {"title": null, "orient": "top-left", "offset": 7, "fillColor": "rgba(255,255,255,0.8)", "strokeColor": "#cccccc", "cornerRadius": 3, "padding": 4,
  "labelFontSize": 13.9, "labelColor": "black", "labelOffset": 24.9, "labelLimit": 400, "symbolSize": 196, "rowPadding": 5.7, "symbolStrokeWidth": 2,
  "encode": {"symbols": {"update": {
   "shape": {"signal": "indexof(datum.value, 'Sander') === 0 ? 'M0.39,-0.59L1.58,0.59M0.39,0.59L1.58,-0.59' : indexof(datum.value, '95%') === 0 ? 'M-1,-0.62L2.97,-0.62L2.97,0.62L-1,0.62Z' : 'M-1,0L2.97,0'"},
   "fill": {"signal": "indexof(datum.value, '95%') === 0 ? '#e2cce4' : 'transparent'"},
   "stroke": {"signal": "indexof(datum.value, '95%') === 0 ? 'transparent' : scale('color', datum.value)"},
   "strokeDash": {"signal": "indexof(datum.value, 'TW_2') === 0 ? [7.7, 3.3] : [1, 0]"},
   "strokeWidth": {"value": 2},
   "opacity": {"value": 1},
   "fillOpacity": {"value": 1},
   "strokeOpacity": {"value": 1}
  }}}
 }
}
},
"layer": [
{"data": {"values": [{"t": 27, "t2": 33, "v": 2.52, "v2": 4.22}]},
 "mark": {"type": "rect", "color": "purple", "opacity": 0.2},
 "encoding": {
  "x": {"field": "t", "type": "quantitative", "scale": {"domain": [1.5, 34.5], "nice": false, "zero": false}, "title": "UTC time [hours]", "axis": {"values": [5,10,15,20,25,30], "format": "d"}},
  "x2": {"field": "t2"},
  "y": {"field": "v", "type": "quantitative", "scale": {"domain": [2.106, 11.214], "nice": false, "zero": false}, "title": "Temperature [°C]", "axis": {"values": [4,6,8,10], "format": "d"}},
  "y2": {"field": "v2"},
  "color": {"value": "purple"}
 }},
{"data": {"name": "black"},
 "mark": {"type": "line", "strokeWidth": 2},
 "encoding": {
  "x": {"field": "t", "type": "quantitative", "scale": {"domain": [1.5, 34.5], "nice": false, "zero": false}, "title": "UTC time [hours]"},
  "y": {"field": "v", "type": "quantitative", "scale": {"domain": [2.106, 11.214], "nice": false, "zero": false}, "title": "Temperature [°C]"}
 }},
{"data": {"name": "dashed"},
 "mark": {"type": "line", "strokeWidth": 2, "strokeDash": [7.7, 3.3]},
 "encoding": {
  "x": {"field": "t", "type": "quantitative", "title": "UTC time [hours]"},
  "y": {"field": "v", "type": "quantitative", "title": "Temperature [°C]"}
 }},
{"data": {"name": "tl"},
 "mark": {"type": "line", "strokeWidth": 2},
 "encoding": {
  "x": {"field": "t", "type": "quantitative", "title": "UTC time [hours]"},
  "y": {"field": "v", "type": "quantitative", "title": "Temperature [°C]"}
 }},
{"data": {"values": [{"s": "sunrise", "t": 7.86}, {"s": "sunrise", "t": 31.81}]},
 "mark": {"type": "rule", "strokeWidth": 2},
 "encoding": {"x": {"field": "t", "type": "quantitative", "title": "UTC time [hours]"}}},
{"data": {"values": [{"t": 27}]},
 "mark": {"type": "rule", "strokeWidth": 2},
 "encoding": {"x": {"field": "t", "type": "quantitative", "title": "UTC time [hours]"}, "color": {"value": "gray"}}},
{"data": {"values": [{"s": "Base min", "v": 3.54}, {"s": "Method min", "v": 3.38}]},
 "mark": {"type": "rule", "strokeWidth": 2},
 "encoding": {"y": {"field": "v", "type": "quantitative", "title": "Temperature [°C]"}}},
{"data": {"values": [{"s": "Sander forecast", "t": 27, "v": 4.59}, {"s": "Sander forecast", "t": 28, "v": 4.43}, {"s": "Sander forecast", "t": 29, "v": 3.59}, {"s": "Sander forecast", "t": 30, "v": 3.52}, {"s": "Sander forecast", "t": 31, "v": 3.88}, {"s": "Sander forecast", "t": 32, "v": 3.57}]},
 "mark": {"type": "point", "shape": "M-1,-1L1,1M-1,1L1,-1", "filled": false, "size": 64, "strokeWidth": 1.5, "opacity": 1},
 "encoding": {
  "x": {"field": "t", "type": "quantitative", "title": "UTC time [hours]"},
  "y": {"field": "v", "type": "quantitative", "title": "Temperature [°C]"}
 }}
],
"config": {
 "font": "DejaVu Sans",
 "view": {"stroke": "black", "strokeWidth": 1},
 "axis": {"grid": false, "domainColor": "black", "domainWidth": 1, "tickColor": "black", "tickWidth": 1, "tickSize": 5, "labelFontSize": 13.9, "labelColor": "black", "labelPadding": 5, "titleFontSize": 13.9, "titleFontWeight": "normal", "titleColor": "black", "labelFlush": false},
 "axisX": {"titlePadding": 8},
 "axisY": {"titlePadding": 8},
 "title": {"fontSize": 16.7, "fontWeight": "normal", "color": "black", "offset": 5, "font": "DejaVu Sans"}
}
}
